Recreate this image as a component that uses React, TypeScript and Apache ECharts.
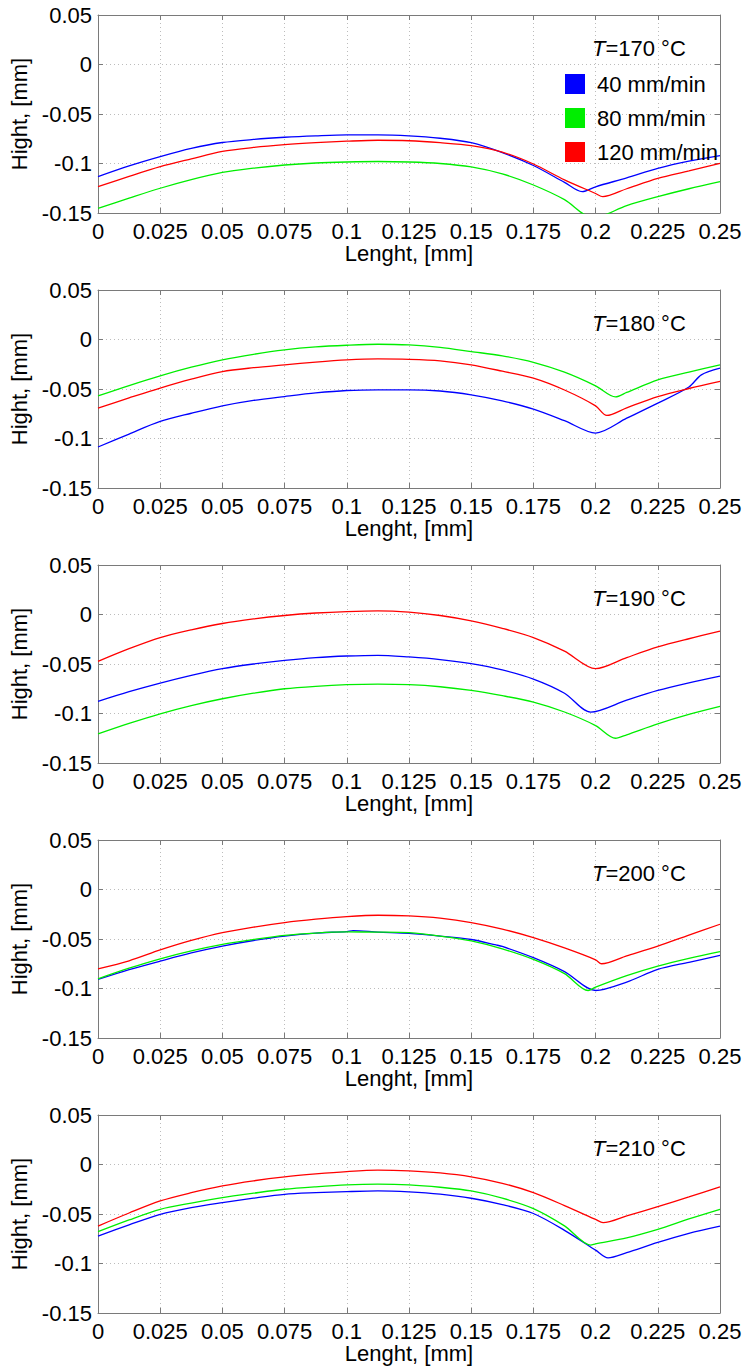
import React, { useEffect, useRef } from "react";
import * as echarts from "echarts";

// ---- Data (Lenght [mm], Hight [mm]) ----
const temps = ["170", "180", "190", "200", "210"];
const speeds = ["40 mm/min", "80 mm/min", "120 mm/min"];
const colors = ["#0000ff", "#00ee00", "#ff0000"];
const xTicks = [0, 0.25, 0.025];
const yTicks = [-0.15, 0.05, 0.05];

const t170_40 = [[0,-0.1133],[0.0125,-0.1025],[0.025,-0.0931],[0.0375,-0.0848],[0.05,-0.0788],[0.0625,-0.0757],[0.075,-0.0735],[0.0875,-0.072],[0.1,-0.071],[0.1125,-0.071],[0.125,-0.072],[0.1375,-0.0745],[0.15,-0.079],[0.1625,-0.089],[0.175,-0.102],[0.1875,-0.119],[0.1946,-0.1284],[0.2,-0.1235],[0.2125,-0.1145],[0.225,-0.105],[0.2375,-0.0977],[0.25,-0.0921]];
const t170_80 = [[0,-0.1453],[0.0125,-0.135],[0.025,-0.125],[0.0375,-0.1163],[0.05,-0.109],[0.0625,-0.1047],[0.075,-0.1015],[0.0875,-0.0995],[0.1,-0.0985],[0.1125,-0.098],[0.125,-0.0985],[0.1375,-0.1],[0.15,-0.1035],[0.1625,-0.1105],[0.175,-0.1217],[0.1875,-0.1365],[0.199,-0.155],[0.2125,-0.1425],[0.225,-0.1335],[0.2375,-0.1255],[0.25,-0.1184]];
const t170_120 = [[0,-0.1234],[0.0125,-0.113],[0.025,-0.1032],[0.0375,-0.0953],[0.05,-0.0878],[0.0625,-0.0838],[0.075,-0.081],[0.0875,-0.079],[0.1,-0.0775],[0.1125,-0.0765],[0.125,-0.077],[0.1375,-0.079],[0.15,-0.082],[0.1625,-0.0885],[0.175,-0.1005],[0.1875,-0.1165],[0.2,-0.1303],[0.2029,-0.1335],[0.2125,-0.1255],[0.225,-0.115],[0.2375,-0.1075],[0.25,-0.0998]];

const t180_40 = [[0,-0.1086],[0.0125,-0.0955],[0.025,-0.0828],[0.0375,-0.0745],[0.05,-0.067],[0.0625,-0.0615],[0.075,-0.0576],[0.0875,-0.054],[0.1,-0.0515],[0.1125,-0.0508],[0.125,-0.0508],[0.1375,-0.052],[0.15,-0.0559],[0.1625,-0.062],[0.175,-0.0703],[0.1875,-0.082],[0.2,-0.0945],[0.2125,-0.0795],[0.225,-0.0643],[0.2375,-0.048],[0.2425,-0.0357],[0.25,-0.029]];
const t180_80 = [[0,-0.057],[0.0125,-0.0465],[0.025,-0.0367],[0.0375,-0.028],[0.05,-0.0206],[0.0625,-0.015],[0.075,-0.0105],[0.0875,-0.0075],[0.1,-0.0058],[0.1125,-0.0048],[0.125,-0.0055],[0.1375,-0.008],[0.15,-0.0122],[0.1625,-0.0165],[0.175,-0.023],[0.1875,-0.033],[0.2,-0.0468],[0.208,-0.058],[0.2125,-0.0535],[0.225,-0.0408],[0.2375,-0.033],[0.25,-0.0256]];
const t180_120 = [[0,-0.0693],[0.0125,-0.059],[0.025,-0.049],[0.0375,-0.04],[0.05,-0.0324],[0.0625,-0.0285],[0.075,-0.0256],[0.0875,-0.0228],[0.1,-0.0206],[0.1125,-0.0196],[0.125,-0.02],[0.1375,-0.0215],[0.15,-0.0256],[0.1625,-0.032],[0.175,-0.039],[0.1875,-0.051],[0.2,-0.067],[0.2045,-0.0767],[0.2125,-0.069],[0.225,-0.0576],[0.2375,-0.0495],[0.25,-0.0424]];

const t190_40 = [[0,-0.0878],[0.0125,-0.078],[0.025,-0.0693],[0.0375,-0.0615],[0.05,-0.0547],[0.0625,-0.05],[0.075,-0.0463],[0.0875,-0.0435],[0.1,-0.0419],[0.1125,-0.0412],[0.125,-0.0429],[0.1375,-0.0455],[0.15,-0.0497],[0.1625,-0.056],[0.175,-0.0652],[0.1875,-0.0795],[0.198,-0.0986],[0.2125,-0.0865],[0.225,-0.0767],[0.2375,-0.069],[0.25,-0.0622]];
const t190_80 = [[0,-0.1206],[0.0125,-0.11],[0.025,-0.1003],[0.0375,-0.092],[0.05,-0.0851],[0.0625,-0.0795],[0.075,-0.075],[0.0875,-0.0725],[0.1,-0.0709],[0.1125,-0.0703],[0.125,-0.0709],[0.1375,-0.073],[0.15,-0.0767],[0.1625,-0.082],[0.175,-0.0885],[0.1875,-0.0985],[0.2,-0.1122],[0.208,-0.125],[0.2125,-0.1215],[0.225,-0.1105],[0.2375,-0.101],[0.25,-0.0929]];
const t190_120 = [[0,-0.0473],[0.0125,-0.0345],[0.025,-0.0233],[0.0375,-0.0155],[0.05,-0.0091],[0.0625,-0.0045],[0.075,-0.001],[0.0875,0.0015],[0.1,0.003],[0.1125,0.0037],[0.125,0.0024],[0.1375,-0.001],[0.15,-0.0064],[0.1625,-0.014],[0.175,-0.0233],[0.1875,-0.037],[0.2,-0.0547],[0.2125,-0.0435],[0.225,-0.0328],[0.2375,-0.0245],[0.25,-0.0169]];

const t200_40 = [[0,-0.0909],[0.0125,-0.081],[0.025,-0.0723],[0.0375,-0.064],[0.05,-0.0571],[0.0625,-0.0515],[0.075,-0.047],[0.0875,-0.044],[0.1,-0.0425],[0.1025,-0.0415],[0.1125,-0.043],[0.125,-0.0443],[0.1375,-0.047],[0.15,-0.0505],[0.16,-0.056],[0.1625,-0.0575],[0.175,-0.0689],[0.1875,-0.083],[0.2,-0.102],[0.2125,-0.0935],[0.225,-0.0807],[0.2375,-0.0735],[0.25,-0.0666]];
const t200_80 = [[0,-0.0902],[0.0125,-0.0795],[0.025,-0.07],[0.0375,-0.062],[0.05,-0.0554],[0.0625,-0.0505],[0.075,-0.0463],[0.0875,-0.044],[0.1,-0.0429],[0.1125,-0.043],[0.125,-0.0436],[0.1375,-0.047],[0.15,-0.052],[0.1625,-0.06],[0.175,-0.0706],[0.1875,-0.085],[0.197,-0.102],[0.2,-0.0986],[0.2125,-0.087],[0.225,-0.0774],[0.2375,-0.0695],[0.25,-0.0628]];
const t200_120 = [[0,-0.0801],[0.0125,-0.072],[0.025,-0.0611],[0.0375,-0.0515],[0.05,-0.0436],[0.0625,-0.038],[0.075,-0.0334],[0.0875,-0.03],[0.1,-0.0274],[0.1125,-0.026],[0.125,-0.0267],[0.1375,-0.029],[0.15,-0.0334],[0.1625,-0.04],[0.175,-0.0486],[0.1875,-0.059],[0.2,-0.071],[0.2024,-0.075],[0.2125,-0.067],[0.225,-0.0571],[0.2375,-0.046],[0.25,-0.0351]];

const t210_40 = [[0,-0.0723],[0.0125,-0.061],[0.025,-0.0503],[0.0375,-0.0435],[0.05,-0.0385],[0.0625,-0.034],[0.075,-0.0301],[0.0875,-0.0285],[0.1,-0.0274],[0.1125,-0.0267],[0.125,-0.0277],[0.1375,-0.03],[0.15,-0.0341],[0.1625,-0.0405],[0.175,-0.0495],[0.1875,-0.0665],[0.2,-0.0865],[0.205,-0.0943],[0.2125,-0.089],[0.225,-0.0787],[0.2375,-0.0695],[0.25,-0.0622]];
const t210_80 = [[0,-0.0679],[0.0125,-0.056],[0.025,-0.0453],[0.0375,-0.039],[0.05,-0.0334],[0.0625,-0.029],[0.075,-0.025],[0.0875,-0.0225],[0.1,-0.0206],[0.1125,-0.0199],[0.125,-0.0206],[0.1375,-0.023],[0.15,-0.0267],[0.1625,-0.034],[0.175,-0.0445],[0.1875,-0.062],[0.198,-0.0814],[0.2,-0.0801],[0.2125,-0.074],[0.225,-0.0655],[0.2375,-0.055],[0.25,-0.0453]];
const t210_120 = [[0,-0.0622],[0.0125,-0.049],[0.025,-0.0368],[0.0375,-0.0285],[0.05,-0.0216],[0.0625,-0.0165],[0.075,-0.0125],[0.0875,-0.0095],[0.1,-0.0071],[0.1125,-0.0057],[0.125,-0.0064],[0.1375,-0.0085],[0.15,-0.0125],[0.1625,-0.019],[0.175,-0.0284],[0.1875,-0.0415],[0.2,-0.0555],[0.203,-0.0588],[0.2125,-0.052],[0.225,-0.0425],[0.2375,-0.0328],[0.25,-0.0226]];

const panels = [
  [t170_40, t170_80, t170_120],
  [t180_40, t180_80, t180_120],
  [t190_40, t190_80, t190_120],
  [t200_40, t200_80, t200_120],
  [t210_40, t210_80, t210_120],
];

const FONT = "'Liberation Sans', Arial, Helvetica, sans-serif";
const fmt = (v: number) => String(parseFloat(v.toFixed(3)));

export default function App() {
  const ref = useRef<HTMLDivElement>(null);
  useEffect(() => {
    document.body.style.margin = "0";
    if (!ref.current) return;
    const chart = echarts.init(ref.current, null, { renderer: "svg" });
    const LEFT = 98, WIDTH = 622, TOP0 = 15, STEP = 275, HEIGHT = 198;
    const grid: any[] = [], xAxis: any[] = [], yAxis: any[] = [], series: any[] = [], graphic: any[] = [];
    const frame = "#7a7a7a";
    panels.forEach((curves, i) => {
      const top = TOP0 + i * STEP;
      grid.push({ left: LEFT, top, width: WIDTH, height: HEIGHT, containLabel: false });
      xAxis.push({
        type: "value", gridIndex: i, min: xTicks[0], max: xTicks[1], interval: xTicks[2],
        position: "bottom",
        name: "Lenght, [mm]", nameLocation: "middle", nameGap: 27,
        nameTextStyle: { fontFamily: FONT, fontSize: 22, color: "#000" },
        axisLine: { show: true, onZero: false, lineStyle: { color: frame, width: 1 } },
        axisTick: { show: true, inside: true, length: 5, lineStyle: { color: frame } },
        axisLabel: { show: true, margin: 7, fontFamily: FONT, fontSize: 22, color: "#000", formatter: fmt, showMinLabel: true, showMaxLabel: true, hideOverlap: false },
        splitLine: { show: true, lineStyle: { color: "#bcbcbc", type: [1, 3], width: 1 } },
      });
      xAxis.push({
        type: "value", gridIndex: i, min: xTicks[0], max: xTicks[1], interval: xTicks[2],
        position: "top",
        axisLine: { show: true, onZero: false, lineStyle: { color: frame, width: 1 } },
        axisTick: { show: true, inside: true, length: 5, lineStyle: { color: frame } },
        axisLabel: { show: false }, splitLine: { show: false },
      });
      yAxis.push({
        type: "value", gridIndex: i, min: yTicks[0], max: yTicks[1], interval: yTicks[2],
        position: "left",
        name: "Hight, [mm]", nameLocation: "middle", nameGap: 64, nameRotate: 90,
        nameTextStyle: { fontFamily: FONT, fontSize: 22, color: "#000" },
        axisLine: { show: true, onZero: false, lineStyle: { color: frame, width: 1 } },
        axisTick: { show: true, inside: true, length: 5, lineStyle: { color: frame } },
        axisLabel: { show: true, margin: 6, fontFamily: FONT, fontSize: 22, color: "#000", formatter: fmt, showMinLabel: true, showMaxLabel: true },
        splitLine: { show: true, lineStyle: { color: "#bcbcbc", type: [1, 3], width: 1 } },
      });
      yAxis.push({
        type: "value", gridIndex: i, min: yTicks[0], max: yTicks[1], interval: yTicks[2],
        position: "right",
        axisLine: { show: true, onZero: false, lineStyle: { color: frame, width: 1 } },
        axisTick: { show: true, inside: true, length: 5, lineStyle: { color: frame } },
        axisLabel: { show: false }, splitLine: { show: false },
      });
      curves.forEach((data, k) => {
        series.push({
          type: "line", name: speeds[k], xAxisIndex: 2 * i, yAxisIndex: 2 * i,
          data, showSymbol: false, symbol: "none", smooth: 0.3, clip: true,
          color: colors[k],
          lineStyle: { color: colors[k], width: 1.3 },
          itemStyle: { color: colors[k] },
          z: 3,
        });
      });
      graphic.push({
        type: "text", x: 592, y: top + 33,
        style: {
          text: "{i|T}=" + temps[i] + " °C",
          font: `22px ${FONT}`, fill: "#000", verticalAlign: "middle",
          rich: { i: { fontStyle: "italic", fontSize: 22, fontFamily: FONT, fill: "#000" } },
        },
      });
    });
    chart.setOption({
      animation: false,
      backgroundColor: "#fff",
      grid, xAxis, yAxis, series, graphic,
      legend: {
        data: speeds, orient: "vertical", left: 560, top: 68,
        icon: "rect", itemWidth: 20, itemHeight: 20, itemGap: 12,
        selectedMode: false,
        textStyle: { fontFamily: FONT, fontSize: 22, color: "#000", padding: [0, 0, 0, 7] },
      },
    });
    return () => chart.dispose();
  }, []);
  return <div ref={ref} style={{ width: 747, height: 1369 }} />;
}
